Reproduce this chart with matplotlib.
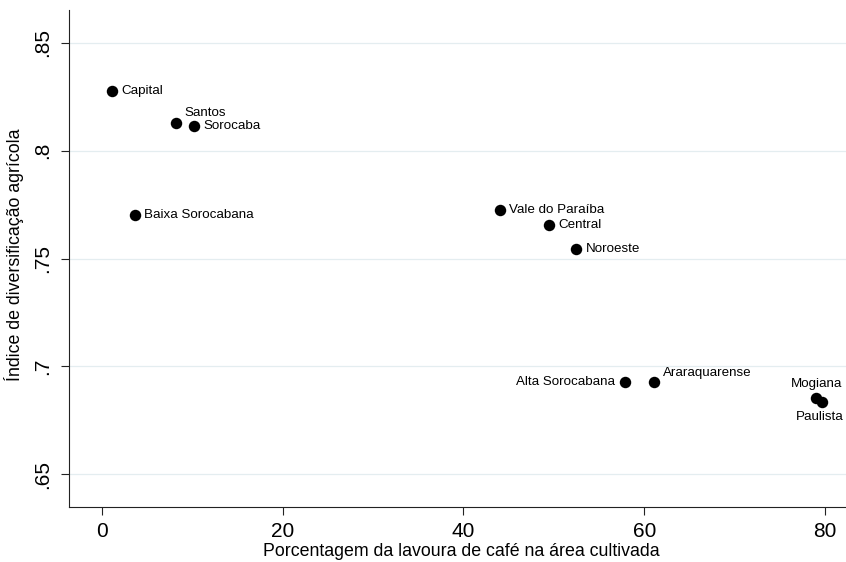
import matplotlib
matplotlib.use('Agg')
import matplotlib.pyplot as plt

plt.rcParams['font.family'] = ['Liberation Sans', 'DejaVu Sans']

# regiões do estado de SP
regioes = ['Capital', 'Santos', 'Sorocaba', 'Baixa Sorocabana', 'Vale do Paraíba',
           'Central', 'Noroeste', 'Alta Sorocabana', 'Araraquarense', 'Mogiana', 'Paulista']
cafe_pct = [1.1, 8.2, 10.2, 3.7, 44.0, 49.5, 52.5, 57.9, 61.1, 79.0, 79.6]
indice_div = [0.8276, 0.8128, 0.8114, 0.7702, 0.7725, 0.7655, 0.7543, 0.6929, 0.6926, 0.6852, 0.6836]
# posição do rótulo (estilo stata: 3 = direita, 1 = acima-direita, 9 = esquerda, 12 = acima, 6 = abaixo)
posicao = [3, 1, 3, 3, 3, 3, 3, 9, 1, 12, 6]

xticks = [0, 20, 40, 60, 80]
yticks = [0.65, 0.70, 0.75, 0.80, 0.85]
ytick_labels = ['.65', '.7', '.75', '.8', '.85']

offsets = {
    3: ((6.7, 0), 'left', 'center'),
    1: ((6.2, 7.0), 'left', 'center'),
    9: ((-7.5, 0), 'right', 'center'),
    12: ((0, 10.5), 'center', 'center'),
    6: ((-1.0, -11.2), 'center', 'center'),
}

fig = plt.figure(figsize=(8.46, 5.62), dpi=100)
ax = fig.add_axes([0.0819, 0.0984, 0.9181, 0.8838])

ax.scatter(cafe_pct, indice_div, s=68, color='black', zorder=3, linewidths=0)

for nome, x, y, p in zip(regioes, cafe_pct, indice_div, posicao):
    (dx, dy), ha, va = offsets[p]
    ax.annotate(nome, (x, y), xytext=(dx, dy), textcoords='offset points',
                ha=ha, va=va, fontsize=9.6, color='black')

ax.set_xlim(-3.58, 82.3)
ax.set_ylim(0.635, 0.8652)

ax.set_xticks(xticks)
ax.set_yticks(yticks)
ax.set_yticklabels(ytick_labels, rotation=90, va='center')

ax.grid(axis='y', color='#e4edf0', linewidth=0.9, zorder=0)
ax.grid(axis='x', visible=False)

for s in ['top', 'right']:
    ax.spines[s].set_visible(False)
for s in ['left', 'bottom']:
    ax.spines[s].set_linewidth(0.8)
    ax.spines[s].set_color('#222222')

ax.tick_params(axis='both', length=5.8, width=0.8, color='#222222', labelsize=15)
ax.tick_params(axis='x', pad=5)
ax.tick_params(axis='y', pad=6.5)

ax.set_xlabel('Porcentagem da lavoura de café na área cultivada', fontsize=12.8, va='top')
ax.xaxis.set_label_coords(0.505, -0.074)
ax.set_ylabel('Índice de diversificação agrícola', fontsize=12.8, va='center')
ax.yaxis.set_label_coords(-0.0706, 0.508)

fig.savefig('out.png', dpi=100)
